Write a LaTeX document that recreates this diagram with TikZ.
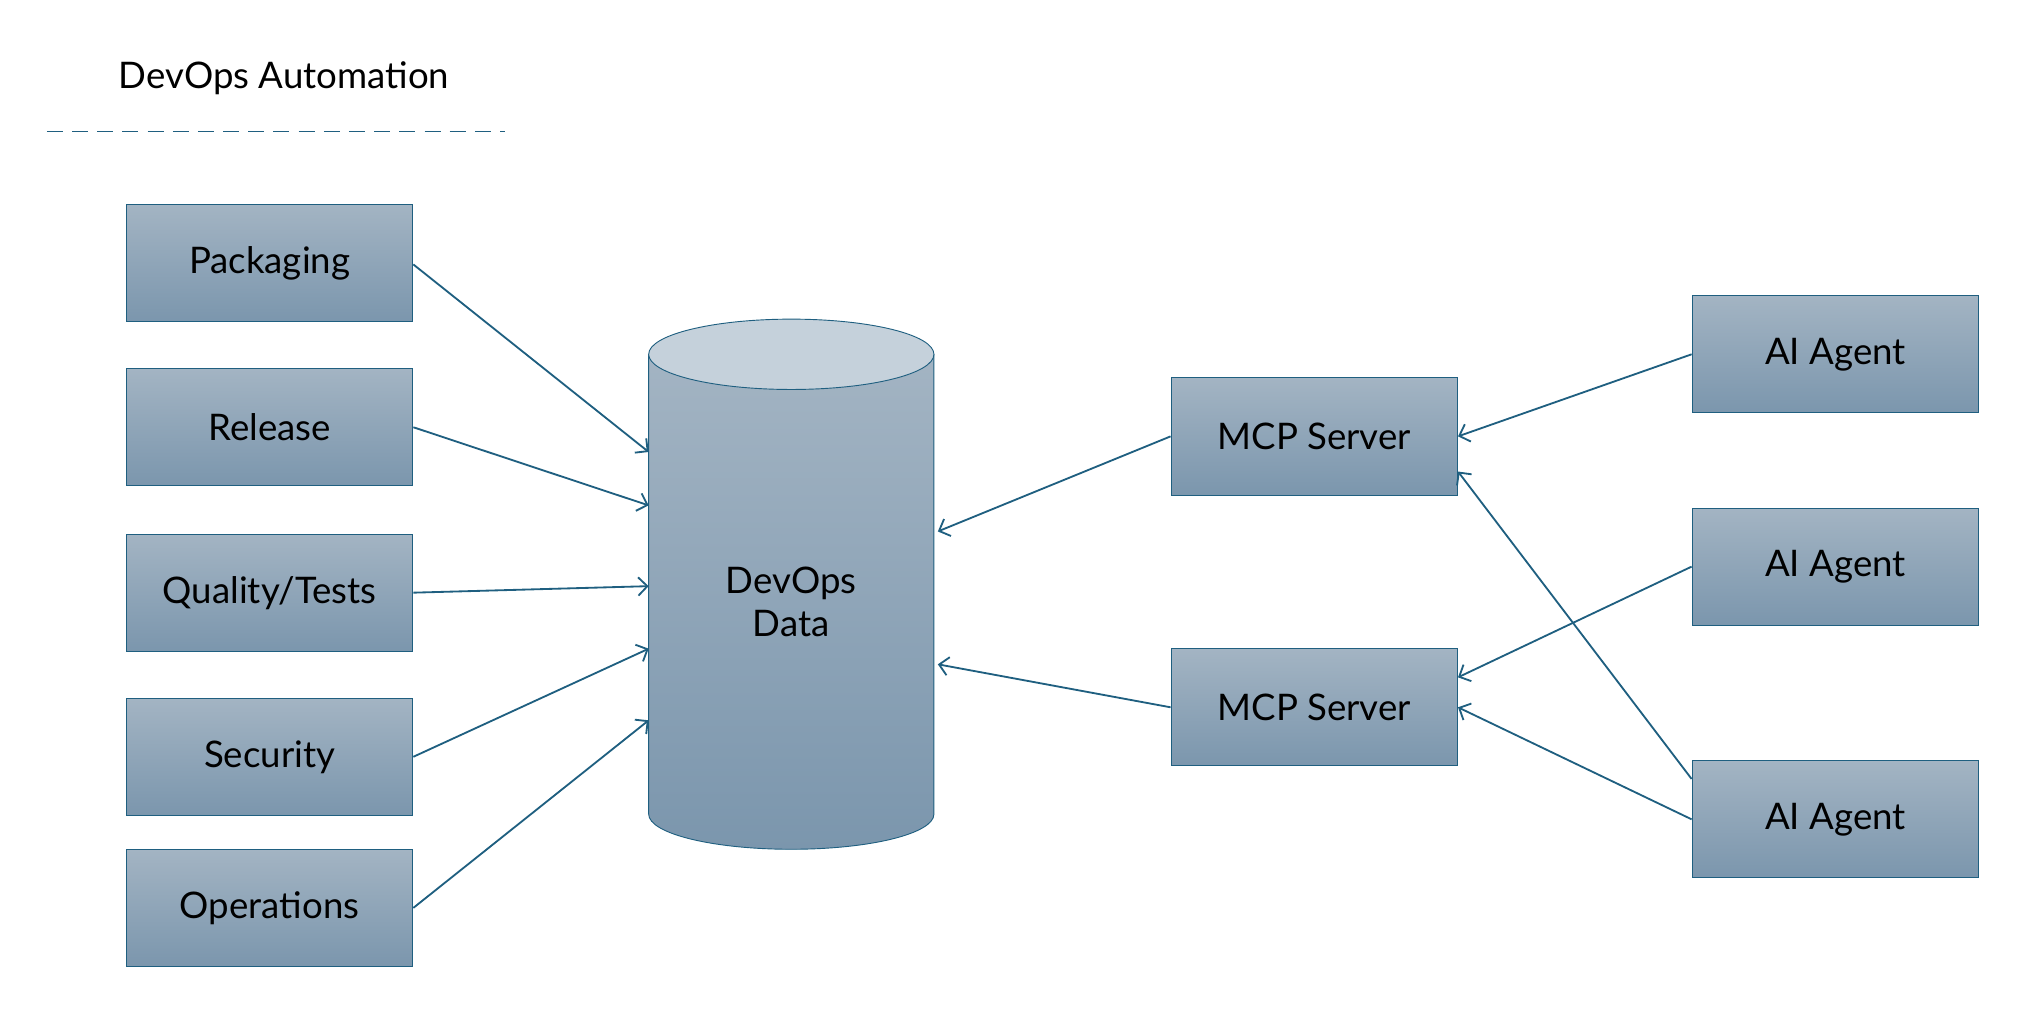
\documentclass[tikz,border=0pt]{standalone}
\usepackage{fontspec}
\setmainfont{Lato}
\usetikzlibrary{positioning}
\definecolor{edge}{HTML}{1F5F80}
\definecolor{boxtop}{HTML}{A3B4C3}
\definecolor{boxbot}{HTML}{7B96AD}
\definecolor{captop}{HTML}{C5D1DB}
\tikzset{
  block/.style={draw=edge, top color=boxtop, bottom color=boxbot, minimum width=4.4cm, minimum height=1.8cm, font=\fontsize{16}{19}\selectfont, inner sep=0pt},
  link/.style={draw=edge, thick, ->, >={Straight Barb[length=4pt]}}
}
\usetikzlibrary{arrows.meta}
\begin{document}
\begin{tikzpicture}[x=0.02cm, y=-0.02cm]
\useasboundingbox (0,0) rectangle (1560,785);
\node[font=\fontsize{16}{19}\selectfont] (title) at (218,60) {DevOps Automation};
\draw[edge, thick, dash pattern=on 7pt off 4pt] (36,101) -- (388,101);

% left blocks
\node[block] (pack) at (207,202) {Packaging};
\node[block] (rel) at (207,328) {Release};
\node[block] (qual) at (207,455) {Quality/Tests};
\node[block] (sec) at (207,581) {Security};
\node[block] (ops) at (207,697) {Operations};

% data store
\shade[top color=boxtop, bottom color=boxbot, draw=edge]
  (498,272) -- (498,625) arc[start angle=180, end angle=360, x radius=109.5, y radius=-27] -- (717,272) -- cycle;
\draw[edge, fill=captop] (607.5,272) ellipse[x radius=109.5, y radius=27];
\node[font=\fontsize{16}{19}\selectfont, align=center] (data) at (607.5,462) {DevOps\\Data};
\coordinate (in1) at (498,347);
\coordinate (in2) at (498,388);
\coordinate (in3) at (498,450);
\coordinate (in4) at (498,498);
\coordinate (in5) at (498,553);
\coordinate (out1) at (720,408);
\coordinate (out2) at (720,510);

% servers and agents
\node[block] (mcpa) at (1009,335) {MCP Server};
\node[block] (mcpb) at (1009,543) {MCP Server};
\node[block] (aga) at (1409,272) {AI Agent};
\node[block] (agb) at (1409,435) {AI Agent};
\node[block] (agc) at (1409,629) {AI Agent};

\draw[link] (pack.east) ++(0,1) -- (in1);
\draw[link] (rel.east) -- (in2);
\draw[link] (qual.east) -- (in3);
\draw[link] (sec.east) -- (in4);
\draw[link] (ops.east) -- (in5);
\draw[link] (mcpa.west) -- (out1);
\draw[link] (mcpb.west) -- (out2);
\draw[link] (aga.west) -- (mcpa.east);
\draw[link] (agb.west) -- ([yshift=0.46cm]mcpb.east);
\draw[link] ([yshift=0.62cm]agc.west) -- ([yshift=-0.54cm]mcpa.east);
\draw[link] (agc.west) -- (mcpb.east);
\end{tikzpicture}
\end{document}
